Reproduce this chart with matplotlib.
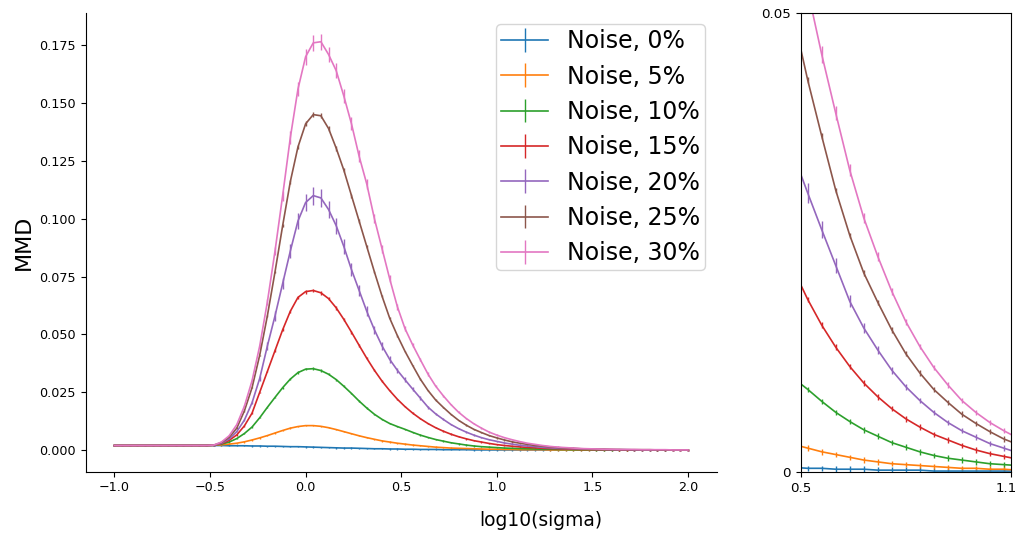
import numpy as np
import matplotlib
matplotlib.use("Agg")
import matplotlib.pyplot as plt
import matplotlib.transforms as mtransforms

# bandwidth grid (log10 sigma), 76 evaluation points from -1 to 2
log_sigma = np.linspace(-1.0, 2.0, 76)

noise_labels = ["Noise, 0%", "Noise, 5%", "Noise, 10%", "Noise, 15%",
                "Noise, 20%", "Noise, 25%", "Noise, 30%"]

flat = [0.0020] * 12

mmd_noise_0 = flat + [
    0.0020, 0.0020, 0.0020, 0.0019, 0.0019, 0.0019, 0.0018, 0.0018, 0.0017, 0.0017, 0.0016, 0.0015,
    0.0015, 0.0014, 0.0013, 0.0012, 0.0011, 0.0010, 0.0009, 0.0009, 0.0008, 0.0007, 0.0006, 0.0006,
    0.0005, 0.0005, 0.0004, 0.0004, 0.0003, 0.0003, 0.0003, 0.0002, 0.0002, 0.0002, 0.0002, 0.0001,
    0.0001, 0.0001, 0.0001, 0.0001, 0.0001, 0.0001, 0.0001, 0.0001, 0.0001, 0.0001, 0.0001, 0.0001,
    0.0001, 0.0000, 0.0000, 0.0000, 0.0000, 0.0000, 0.0000, 0.0000, 0.0000, 0.0000, 0.0000, 0.0000,
    0.0000, 0.0000, 0.0000, 0.0000]

mmd_noise_5 = flat + [
    0.0020, 0.0021, 0.0023, 0.0026, 0.0030, 0.0036, 0.0044, 0.0053, 0.0063, 0.0074, 0.0085, 0.0095,
    0.0102, 0.0106, 0.0106, 0.0103, 0.0097, 0.0089, 0.0080, 0.0071, 0.0062, 0.0054, 0.0047, 0.0040,
    0.0035, 0.0030, 0.0026, 0.0022, 0.0019, 0.0016, 0.0013, 0.0011, 0.0009, 0.0008, 0.0007, 0.0006,
    0.0005, 0.0004, 0.0004, 0.0003, 0.0003, 0.0002, 0.0002, 0.0002, 0.0002, 0.0001, 0.0001, 0.0001,
    0.0001, 0.0001, 0.0001, 0.0001, 0.0001, 0.0001, 0.0001, 0.0001, 0.0001, 0.0001, 0.0001, 0.0001,
    0.0001, 0.0001, 0.0001, 0.0001]

mmd_noise_10 = flat + [
    0.0020, 0.0021, 0.0026, 0.0035, 0.0050, 0.0072, 0.0100, 0.0140, 0.0185, 0.0228, 0.0270, 0.0307,
    0.0335, 0.0350, 0.0352, 0.0344, 0.0328, 0.0305, 0.0276, 0.0245, 0.0212, 0.0182, 0.0155, 0.0133,
    0.0115, 0.0102, 0.0090, 0.0077, 0.0065, 0.0055, 0.0046, 0.0039, 0.0032, 0.0027, 0.0022, 0.0018,
    0.0015, 0.0013, 0.0011, 0.0009, 0.0008, 0.0007, 0.0006, 0.0005, 0.0004, 0.0004, 0.0003, 0.0003,
    0.0002, 0.0002, 0.0002, 0.0001, 0.0001, 0.0001, 0.0001, 0.0001, 0.0001, 0.0001, 0.0001, 0.0001,
    0.0001, 0.0001, 0.0001, 0.0001]

mmd_noise_15 = flat + [
    0.0020, 0.0021, 0.0028, 0.0042, 0.0066, 0.0105, 0.0160, 0.0250, 0.0340, 0.0430, 0.0520, 0.0600,
    0.0660, 0.0685, 0.0690, 0.0680, 0.0655, 0.0615, 0.0565, 0.0510, 0.0453, 0.0397, 0.0345, 0.0298,
    0.0257, 0.0220, 0.0188, 0.0160, 0.0136, 0.0115, 0.0097, 0.0082, 0.0069, 0.0058, 0.0049, 0.0041,
    0.0035, 0.0029, 0.0024, 0.0020, 0.0017, 0.0014, 0.0012, 0.0010, 0.0008, 0.0007, 0.0006, 0.0005,
    0.0004, 0.0003, 0.0003, 0.0002, 0.0002, 0.0002, 0.0001, 0.0001, 0.0001, 0.0001, 0.0001, 0.0001,
    0.0001, 0.0001, 0.0001, 0.0001]

mmd_noise_20 = flat + [
    0.0020, 0.0021, 0.0030, 0.0048, 0.0080, 0.0130, 0.0205, 0.0310, 0.0450, 0.0580, 0.0720, 0.0860,
    0.0990, 0.1070, 0.1100, 0.1090, 0.1040, 0.0970, 0.0880, 0.0780, 0.0690, 0.0600, 0.0520, 0.0450,
    0.0392, 0.0345, 0.0304, 0.0264, 0.0225, 0.0186, 0.0157, 0.0133, 0.0111, 0.0093, 0.0078, 0.0065,
    0.0054, 0.0045, 0.0038, 0.0031, 0.0026, 0.0021, 0.0018, 0.0015, 0.0012, 0.0010, 0.0008, 0.0007,
    0.0006, 0.0005, 0.0004, 0.0003, 0.0003, 0.0002, 0.0002, 0.0002, 0.0001, 0.0001, 0.0001, 0.0001,
    0.0001, 0.0001, 0.0001, 0.0001]

mmd_noise_25 = flat + [
    0.0020, 0.0022, 0.0033, 0.0055, 0.0095, 0.0170, 0.0270, 0.0410, 0.0580, 0.0770, 0.0970, 0.1160,
    0.1310, 0.1410, 0.1450, 0.1445, 0.1390, 0.1305, 0.1210, 0.1100, 0.0990, 0.0880, 0.0770, 0.0665,
    0.0570, 0.0495, 0.0427, 0.0366, 0.0307, 0.0258, 0.0217, 0.0185, 0.0155, 0.0129, 0.0108, 0.0090,
    0.0076, 0.0063, 0.0053, 0.0044, 0.0036, 0.0030, 0.0025, 0.0020, 0.0017, 0.0014, 0.0011, 0.0009,
    0.0008, 0.0006, 0.0005, 0.0004, 0.0004, 0.0003, 0.0003, 0.0002, 0.0002, 0.0002, 0.0002, 0.0001,
    0.0001, 0.0001, 0.0001, 0.0001]

mmd_noise_30 = flat + [
    0.0020, 0.0022, 0.0035, 0.0062, 0.0110, 0.0190, 0.0300, 0.0450, 0.0640, 0.0860, 0.1100, 0.1350,
    0.1560, 0.1700, 0.1760, 0.1765, 0.1710, 0.1640, 0.1530, 0.1410, 0.1270, 0.1150, 0.1000, 0.0870,
    0.0740, 0.0620, 0.0525, 0.0455, 0.0391, 0.0329, 0.0277, 0.0235, 0.0197, 0.0164, 0.0137, 0.0114,
    0.0095, 0.0078, 0.0065, 0.0054, 0.0045, 0.0037, 0.0030, 0.0025, 0.0020, 0.0016, 0.0013, 0.0011,
    0.0009, 0.0007, 0.0006, 0.0005, 0.0004, 0.0004, 0.0003, 0.0003, 0.0003, 0.0002, 0.0002, 0.0002,
    0.0002, 0.0001, 0.0001, 0.0001]

mmd_series = [mmd_noise_0, mmd_noise_5, mmd_noise_10, mmd_noise_15,
              mmd_noise_20, mmd_noise_25, mmd_noise_30]

# relative spread of the MMD estimate per noise level, plus a small floor
rel_spread = [0.08, 0.03, 0.015, 0.012, 0.035, 0.008, 0.02]
spread_floor = 0.0003

colors = plt.rcParams["axes.prop_cycle"].by_key()["color"][:7]

fig = plt.figure(figsize=(10.18, 5.35), dpi=100)
ax = fig.add_axes([0.0842, 0.1183, 0.6198, 0.858])
ax_zoom = fig.add_axes([0.7866, 0.1178, 0.2063, 0.8573])

for vals, rel, label, color in zip(mmd_series, rel_spread, noise_labels, colors):
    vals = np.asarray(vals)
    err = np.maximum(vals * rel, spread_floor)
    for a in (ax, ax_zoom):
        a.errorbar(log_sigma, vals, yerr=err, color=color, linewidth=1.2,
                   elinewidth=1.0, label=label if a is ax else None)

# main panel
ax.spines["top"].set_visible(False)
ax.spines["right"].set_visible(False)
ax.tick_params(labelsize=9.2)
ax.set_ylabel("MMD", fontsize=16)
ax.legend(loc="upper right", fontsize=17, labelspacing=0.48,
          borderaxespad=0.5, borderpad=0.2)

# zoomed panel on the tail
ax_zoom.set_xlim(0.5, 1.1)
ax_zoom.set_ylim(0, 0.05)
ax_zoom.set_xticks([0.5, 1.1])
ax_zoom.set_xticklabels(["0.5", "1.1"])
ax_zoom.set_yticks([0, 0.05])
ax_zoom.set_yticklabels(["0", "0.05"])
ax_zoom.tick_params(labelsize=9.6)

# nudge the last tick label so it stays inside the figure
last = ax_zoom.get_xticklabels()[-1]
last.set_transform(last.get_transform()
                   + mtransforms.ScaledTranslation(-0.05, 0, fig.dpi_scale_trans))

fig.text(541 / 1018, 1 - 521 / 535, "log10(sigma)", fontsize=13.4,
         ha="center", va="center")

fig.savefig("out.png", dpi=100)
